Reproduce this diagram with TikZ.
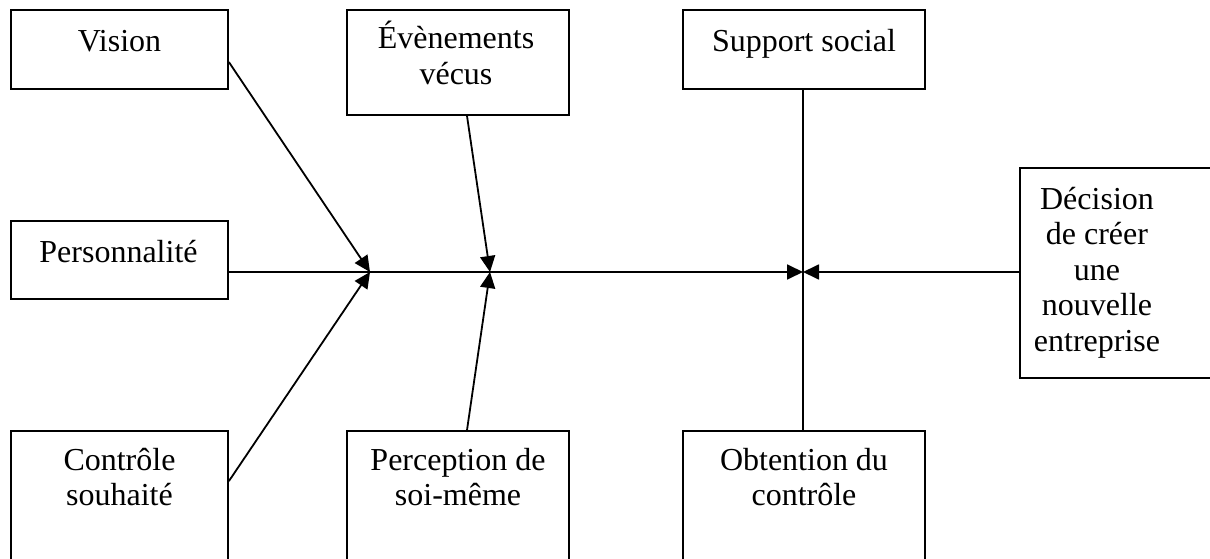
\documentclass[tikz,border=0pt]{standalone}
\usepackage{fontspec}
\setmainfont{Liberation Serif}
\usetikzlibrary{arrows.meta}
\tikzset{
  box/.style 2 args={draw, line width=1.8pt, inner sep=0pt, minimum width=#1, minimum height=#2},
  lbl/.style={anchor=base, inner sep=0pt},
  conn/.style={line width=1.8pt},
  arr/.style={line width=1.8pt, -{Triangle[length=16pt,width=15pt]}},
}
\newcommand{\boxtxt}[1]{\parbox[t]{260pt}{\centering\fontsize{32}{35.5}\selectfont #1}}
\begin{document}
\begin{tikzpicture}[x=1pt,y=-1pt]
\useasboundingbox (0,0) rectangle (1210,559);
\fill[white] (0,0) rectangle (1210,559);
\clip (0,0) rectangle (1210,559);
% boxes
\node[box={217pt}{79pt}] (vision) at (119.5,49.5) {};
\node[box={217pt}{78pt}] (pers) at (119.5,260) {};
\node[box={217pt}{209pt}] (ctrl) at (119.5,535.5) {};
\node[box={222pt}{105pt}] (evt) at (458,62.5) {};
\node[box={222pt}{209pt}] (perc) at (458,535.5) {};
\node[box={242pt}{79pt}] (support) at (804,49.5) {};
\node[box={242pt}{209pt}] (obt) at (804,535.5) {};
\node[box={220pt}{210pt}] (dec) at (1130,273) {};
% labels
\node[lbl] at (119.5,52) {\boxtxt{Vision}};
\node[lbl] at (118.5,262) {\boxtxt{Personnalité}};
\node[lbl] at (119.5,470) {\boxtxt{Contrôle\\souhaité}};
\node[lbl] at (456,49) {\boxtxt{Évènements\\vécus}};
\node[lbl] at (458,470) {\boxtxt{Perception de\\soi-même}};
\node[lbl] at (804,52) {\boxtxt{Support social}};
\node[lbl] at (804,470) {\boxtxt{Obtention du\\contrôle}};
\node[lbl] at (1097,209) {\boxtxt{Décision\\de créer\\une\\nouvelle\\entreprise}};
% junctions
\coordinate (j1) at (370,272);
\coordinate (j2) at (490,272);
\coordinate (j3) at (803,272);
% connectors
\draw[arr] (pers.east |- j1) -- (j3);
\draw[arr] (dec.west |- j3) -- (j3);
\draw[arr] ([yshift=-53pt]vision.north east) -- (j1);
\draw[arr] ([yshift=-51pt]ctrl.north east) -- (j1);
\draw[arr] ([xshift=9pt]evt.south) -- (j2);
\draw[arr] ([xshift=9pt]perc.north) -- (j2);
\draw[conn] (support.south -| j3) -- (obt.north -| j3);
\end{tikzpicture}
\end{document}
